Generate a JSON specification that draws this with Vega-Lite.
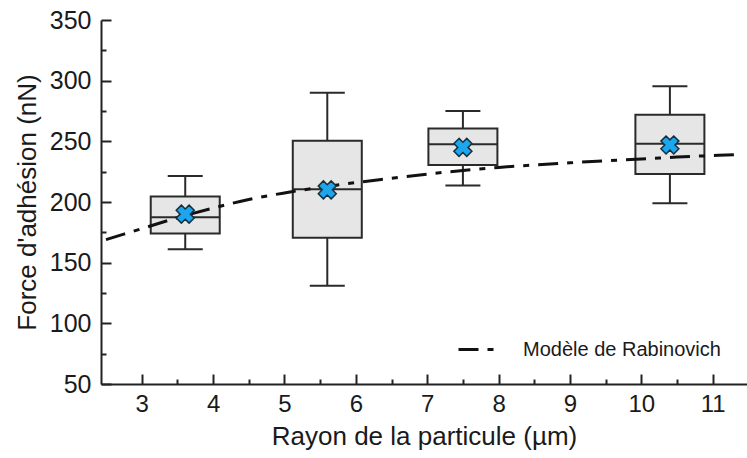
{
  "$schema": "https://vega.github.io/schema/vega-lite/v6.json",
  "autosize": {"type": "none"},
  "width": 646,
  "height": 364,
  "padding": {"left": 101, "top": 20, "right": 0, "bottom": 74},
  "background": "white",
  "config": {
    "font": "Liberation Sans",
    "view": {"stroke": null},
    "axis": {
      "domainColor": "#222222",
      "domainWidth": 2,
      "tickColor": "#222222",
      "tickWidth": 2,
      "grid": false,
      "labelColor": "#1a1a1a",
      "titleColor": "#1a1a1a",
      "labelFont": "Liberation Sans",
      "titleFont": "Liberation Sans",
      "titleFontWeight": "normal"
    }
  },
  "resolve": {"axis": {"x": "independent", "y": "independent"}},
  "datasets": {
    "boxes": [
      {"rayon": 3.61, "min": 161, "q1": 174, "median": 187.5, "q3": 204.5, "max": 221.5, "mean": 190},
      {"rayon": 5.6, "min": 131, "q1": 170.5, "median": 210.5, "q3": 250.5, "max": 290, "mean": 210},
      {"rayon": 7.5, "min": 213.5, "q1": 230.5, "median": 247.5, "q3": 260.5, "max": 275, "mean": 245},
      {"rayon": 10.4, "min": 199, "q1": 223, "median": 248, "q3": 272, "max": 295.5, "mean": 247}
    ],
    "model": [
      {"rayon": 2.5, "force": 169},
      {"rayon": 3.0, "force": 178},
      {"rayon": 3.5, "force": 187},
      {"rayon": 4.0, "force": 195},
      {"rayon": 4.5, "force": 202},
      {"rayon": 5.0, "force": 207.5},
      {"rayon": 5.5, "force": 212},
      {"rayon": 6.0, "force": 216},
      {"rayon": 6.5, "force": 219.5},
      {"rayon": 7.0, "force": 223},
      {"rayon": 7.5, "force": 226},
      {"rayon": 8.0, "force": 228.5},
      {"rayon": 8.5, "force": 230.5},
      {"rayon": 9.0, "force": 232.3},
      {"rayon": 9.5, "force": 234},
      {"rayon": 10.0, "force": 235.5},
      {"rayon": 10.5, "force": 237},
      {"rayon": 11.0, "force": 238.3},
      {"rayon": 11.41, "force": 239.3}
    ]
  },
  "layer": [
    {
      "data": {"name": "boxes"},
      "mark": {"type": "rule", "stroke": "#2a2a2a", "strokeWidth": 2},
      "encoding": {
        "x": {
          "field": "rayon",
          "type": "quantitative",
          "scale": {"domain": [2.5, 11.41], "nice": false, "zero": false},
          "axis": {
            "orient": "bottom",
            "title": "Rayon de la particule (µm)",
            "titleFontSize": 26,
            "titlePadding": 7,
            "values": [3, 4, 5, 6, 7, 8, 9, 10, 11],
            "format": "d",
            "labelFontSize": 24,
            "labelPadding": 18,
            "tickSize": -10,
            "labelFlush": false,
            "labelOverlap": false
          }
        },
        "y": {
          "field": "min",
          "type": "quantitative",
          "scale": {"domain": [50, 350], "nice": false, "zero": false},
          "axis": {
            "orient": "left",
            "title": "Force d'adhésion (nN)",
            "titleFontSize": 26,
            "titlePadding": 9,
            "values": [50, 100, 150, 200, 250, 300, 350],
            "format": "d",
            "labelFontSize": 25,
            "labelPadding": 20,
            "tickSize": -10,
            "labelOverlap": false,
            "labelFlush": false
          }
        },
        "y2": {"field": "max"}
      }
    },
    {
      "data": {"name": "boxes"},
      "mark": {"type": "bar", "width": 69, "fill": "#e6e6e6", "stroke": "#2a2a2a", "strokeWidth": 2},
      "encoding": {
        "x": {
          "field": "rayon",
          "type": "quantitative",
          "axis": {
            "orient": "bottom",
            "title": null,
            "values": [3.5, 4.5, 5.5, 6.5, 7.5, 8.5, 9.5, 10.5],
            "labels": false,
            "domain": false,
            "tickSize": -5
          }
        },
        "y": {
          "field": "q1",
          "type": "quantitative",
          "axis": {
            "orient": "left",
            "title": null,
            "values": [75, 125, 175, 225, 275, 325],
            "labels": false,
            "domain": false,
            "tickSize": -5
          }
        },
        "y2": {"field": "q3"}
      }
    },
    {
      "data": {"name": "boxes"},
      "mark": {"type": "tick", "orient": "horizontal", "size": 69, "thickness": 2, "color": "#2a2a2a", "opacity": 1},
      "encoding": {
        "x": {"field": "rayon", "type": "quantitative", "axis": null},
        "y": {"field": "median", "type": "quantitative", "axis": null}
      }
    },
    {
      "data": {"name": "boxes"},
      "mark": {"type": "tick", "orient": "horizontal", "size": 35, "thickness": 2, "color": "#2a2a2a", "opacity": 1},
      "encoding": {
        "x": {"field": "rayon", "type": "quantitative", "axis": null},
        "y": {"field": "min", "type": "quantitative", "axis": null}
      }
    },
    {
      "data": {"name": "boxes"},
      "mark": {"type": "tick", "orient": "horizontal", "size": 35, "thickness": 2, "color": "#2a2a2a", "opacity": 1},
      "encoding": {
        "x": {"field": "rayon", "type": "quantitative", "axis": null},
        "y": {"field": "max", "type": "quantitative", "axis": null}
      }
    },
    {
      "data": {"name": "model"},
      "mark": {"type": "line", "strokeWidth": 3, "strokeDash": [20, 9, 6, 9], "clip": true, "interpolate": "monotone"},
      "encoding": {
        "x": {"field": "rayon", "type": "quantitative", "axis": null},
        "y": {"field": "force", "type": "quantitative", "axis": null},
        "stroke": {
          "datum": "Modèle de Rabinovich",
          "type": "nominal",
          "scale": {"range": ["#111111"]},
          "legend": {
            "title": null,
            "orient": "none",
            "legendX": 356,
            "legendY": 310,
            "padding": 0,
            "symbolType": "stroke",
            "symbolSize": 1296,
            "symbolStrokeWidth": 3,
            "symbolDash": [20, 9, 6, 9],
            "labelFontSize": 20,
            "labelLimit": 400,
            "labelFont": "Liberation Sans",
            "labelColor": "#1a1a1a",
            "labelOffset": 27
          }
        }
      }
    },
    {
      "data": {"name": "boxes"},
      "mark": {"type": "point", "shape": "cross", "angle": 45, "size": 330, "filled": true, "fill": "#1ba6ee", "stroke": "#15303f", "strokeWidth": 1.5, "opacity": 1},
      "encoding": {
        "x": {"field": "rayon", "type": "quantitative", "axis": null},
        "y": {"field": "mean", "type": "quantitative", "axis": null}
      }
    }
  ]
}
